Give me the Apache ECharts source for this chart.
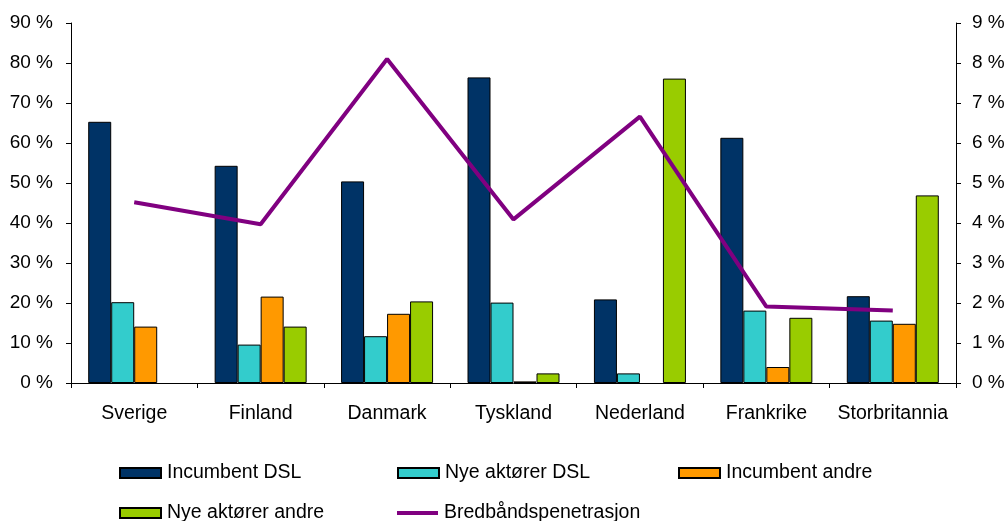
<!DOCTYPE html>
<html>
<head>
<meta charset="utf-8">
<script src="https://cdn.jsdelivr.net/npm/echarts@6/dist/echarts.min.js"></script>
<style>
  html, body { margin: 0; padding: 0; background: #fff; }
  #chart { width: 1008px; height: 521px; }
</style>
</head>
<body>
<div id="chart"></div>
<script>
// Countries along the category axis
var countries = ['Sverige', 'Finland', 'Danmark', 'Tyskland', 'Nederland', 'Frankrike', 'Storbritannia'];

// Market shares (%) per operator group, left axis
var incumbentDsl = [65.3, 54.3, 50.4, 76.4, 20.9, 61.3, 21.7];
var nyeDsl       = [20.2, 9.6, 11.7, 20.1, 2.4, 18.1, 15.6];
var incumbentAndre = [14.1, 21.6, 17.3, 0.4, null, 4.0, 14.8];
var nyeAndre     = [null, 14.1, 20.4, 2.4, 76.1, 16.3, 46.9];

// Broadband penetration (%), right axis
var penetrasjon = [4.52, 3.97, 8.1, 4.09, 6.66, 1.91, 1.81];

// Axis ranges
var leftMax = 90, leftStep = 10;
var rightMax = 9, rightStep = 1;

var font = 'Liberation Sans, Arial, sans-serif';
var axisText = { color: '#000', fontFamily: font, fontSize: 19 };
var labelText = { color: '#000', fontFamily: font, fontSize: 19.5 };

function barSeries(name, data, color) {
  return {
    name: name,
    type: 'bar',
    data: data,
    barWidth: 23,
    barGap: '0%',
    itemStyle: { color: color, borderColor: '#000', borderWidth: 1 },
    emphasis: { disabled: true }
  };
}

function legendAt(name, left, top, iconHeight) {
  return {
    data: [{ name: name, icon: 'rect' }],
    left: left,
    top: top,
    itemWidth: 41,
    itemHeight: iconHeight,
    itemGap: 0,
    padding: 0,
    selectedMode: false,
    textStyle: Object.assign({ padding: [0, 0, 0, 1] }, labelText)
  };
}

var chart = echarts.init(document.getElementById('chart'), null, { renderer: 'canvas' });
chart.setOption({
  backgroundColor: '#fff',
  animation: false,
  grid: { left: 71, right: 52, top: 23, bottom: 138 },
  legend: [
    legendAt('Incumbent DSL', 119, 463, 10),
    legendAt('Nye aktører DSL', 397, 463, 10),
    legendAt('Incumbent andre', 678, 463, 10),
    legendAt('Nye aktører andre', 119, 503, 10),
    legendAt('Bredbåndspenetrasjon', 397, 503, 4)
  ],
  xAxis: {
    type: 'category',
    data: countries,
    axisLine: { lineStyle: { color: '#000', width: 1 } },
    axisTick: { show: true, interval: 0, length: 5, lineStyle: { color: '#000' } },
    axisLabel: Object.assign({ interval: 0, margin: 21 }, labelText),
    splitLine: { show: false }
  },
  yAxis: [
    {
      type: 'value',
      min: 0, max: leftMax, interval: leftStep,
      axisLine: { show: true, lineStyle: { color: '#000' } },
      axisTick: { show: true, length: 5, lineStyle: { color: '#000' } },
      axisLabel: Object.assign({ formatter: '{value} %', margin: 18 }, axisText),
      splitLine: { show: false }
    },
    {
      type: 'value',
      min: 0, max: rightMax, interval: rightStep,
      position: 'right',
      axisLine: { show: true, lineStyle: { color: '#000' } },
      axisTick: { show: true, length: 5, lineStyle: { color: '#000' } },
      axisLabel: Object.assign({ formatter: '{value} %', margin: 16 }, axisText),
      splitLine: { show: false }
    }
  ],
  series: [
    barSeries('Incumbent DSL', incumbentDsl, '#003366'),
    barSeries('Nye aktører DSL', nyeDsl, '#33CCCC'),
    barSeries('Incumbent andre', incumbentAndre, '#FF9900'),
    barSeries('Nye aktører andre', nyeAndre, '#99CC00'),
    {
      name: 'Bredbåndspenetrasjon',
      type: 'line',
      yAxisIndex: 1,
      data: penetrasjon,
      symbol: 'none',
      lineStyle: { color: '#800080', width: 4 },
      itemStyle: { color: '#800080', borderWidth: 0 },
      emphasis: { disabled: true },
      z: 5
    }
  ]
});
</script>
</body>
</html>
